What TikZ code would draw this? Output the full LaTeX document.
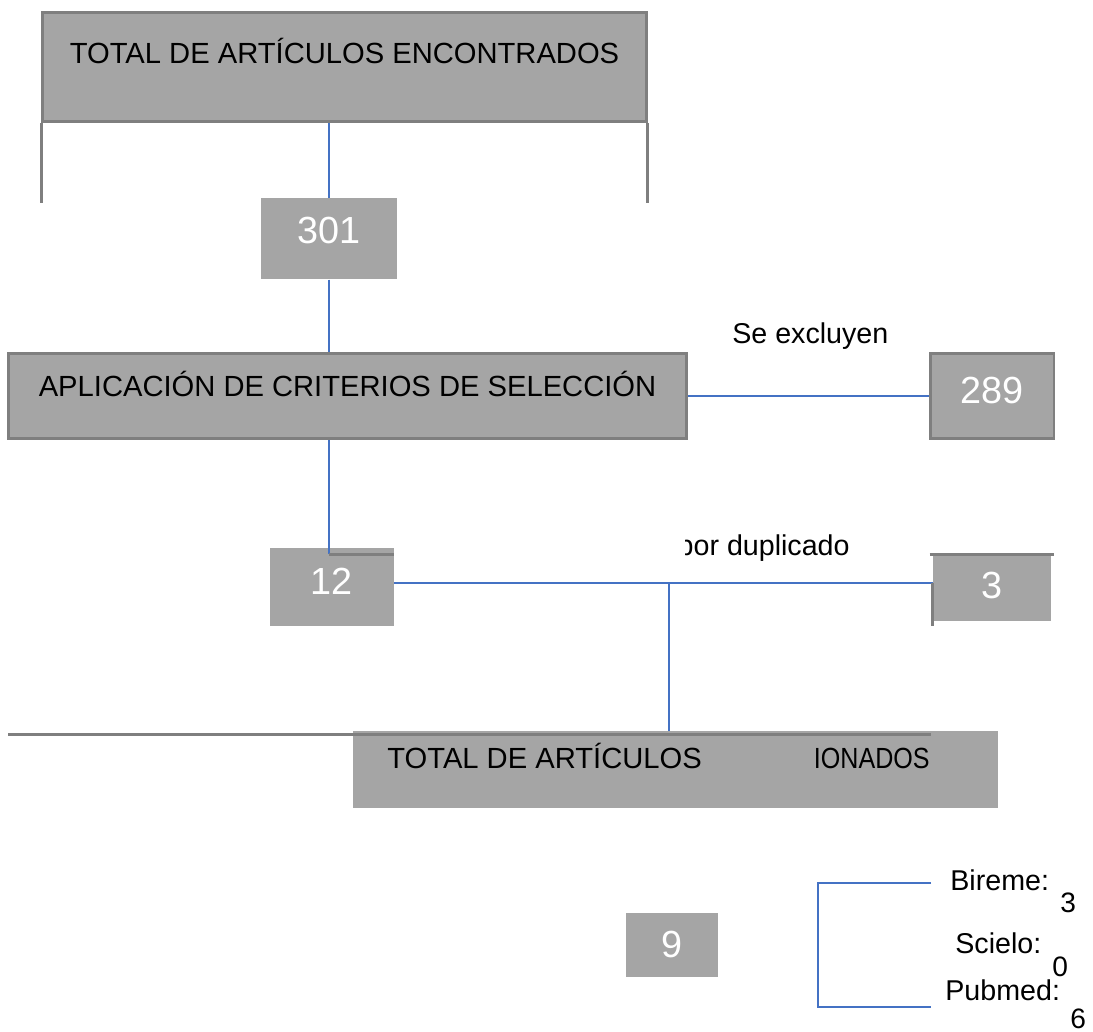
\documentclass[tikz,border=0pt]{standalone}
\usepackage{fontspec}
\setmainfont{Liberation Sans}
\definecolor{boxgray}{HTML}{A5A5A5}
\definecolor{rimgray}{HTML}{7F7F7F}
\definecolor{linkblue}{HTML}{4472C4}

\begin{document}
\begin{tikzpicture}[x=0.02cm,y=-0.02cm,
		box/.style={fill=boxgray,inner sep=0pt,anchor=north,font=\fontsize{16.6}{19}\selectfont},
		numbox/.style={fill=boxgray,inner sep=0pt,anchor=north,text=white,font=\fontsize{21.5}{25}\selectfont},
		rim/.style={rimgray,line width=1.7pt},
		link/.style={linkblue,line width=1.1pt},
		lbl/.style={inner sep=0pt,font=\fontsize{16.3}{19}\selectfont},
		val/.style={inner sep=0pt,anchor=base west,font=\fontsize{16}{18}\selectfont}]
			\useasboundingbox (0,0) rectangle (1093,1032);
			\node[box,draw=rimgray,line width=1.7pt,minimum width=12.07cm,text height=1.02cm,text depth=1.17cm] (topbox) at (344.5,11) {TOTAL DE ARTÍCULOS ENCONTRADOS};
			\node[numbox,minimum width=2.74cm,text height=0.9cm,text depth=0.72cm] (n301) at (329,198) {301};
			\node[box,draw=rimgray,line width=1.7pt,minimum width=13.58cm,text height=0.86cm,text depth=0.84cm] (critbox) at (347.5,352) {APLICACIÓN DE CRITERIOS DE SELECCIÓN};
			\node[numbox,draw=rimgray,line width=1.7pt,minimum width=2.48cm,text height=1.0cm,text depth=0.7cm] (n289) at (992,352) {289};
			\node[numbox,minimum width=2.48cm,text height=0.92cm,text depth=0.64cm] (n12) at (332,548) {12};
			\node[numbox,minimum width=2.36cm,text height=0.84cm,text depth=0.46cm] (n3) at (992,556) {3};
			\node[box,minimum width=12.9cm,minimum height=1.54cm] (selbox) at (675.5,731) {};
			\node[numbox,minimum width=1.84cm,text height=0.88cm,text depth=0.4cm] (n9) at (672,913) {9};

			\node[lbl,anchor=base west] (excl) at (732,343) {Se excluyen};
			\node[lbl,anchor=base east] (dup) at (850,555) {por duplicado};
			\fill[white] (668,528) rectangle (685,566);
			\node[lbl,anchor=base west,font=\fontsize{16.6}{19}\selectfont] (seltxt) at (387,768) {TOTAL DE ARTÍCULOS};
			\node[lbl,anchor=base east,font=\fontsize{16.6}{19}\selectfont] (seltail) at (930,768) {\scalebox{0.86}[1]{IONADOS}};
			\node[lbl,anchor=base west] (bireme) at (950,890) {Bireme:};
			\node[val] (nbireme) at (1060,912) {3};
			\node[lbl,anchor=base west] (scielo) at (955,953) {Scielo:};
			\node[val] (nscielo) at (1052,976) {0};
			\node[lbl,anchor=base west] (pubmed) at (945,1000) {Pubmed:};
			\node[val] (npubmed) at (1070,1028) {6};

			\draw[rim] (topbox.south west) -- ++(0,79.5);
			\draw[rim] (topbox.south east) -- ++(0,79.5);
			\draw[link] (n301.north) -- (n301.north |- topbox.south);
			\draw[link] (n301.south) -- (n301.south |- critbox.north);
			\coordinate (elbow) at (n301.south |- 0,554);
			\draw[link] (n301.south |- critbox.south) -- (elbow);
			\draw[rim] (elbow) -- (elbow -| n12.east);
			\draw[link] (critbox.east) -- (n289.west);
			\coordinate (fork) at (669,583);
			\draw[link] (n12.east |- fork) -- (n3.west |- fork);
			\draw[rim] (n3.west |- fork) -- (n3.west |- 0,626);
			\draw[rim] ([shift={(-3,-1.5)}]n3.north west) -- ([shift={(3,-1.5)}]n3.north east);
			\draw[link] (fork) -- (fork |- selbox.north);
			\draw[rim] (8,734) -- (931,734);
			\coordinate (brtop) at (931,883);
			\coordinate (brbot) at (931,1007);
			\draw[link] (brtop) -- ++(-113,0) |- (brbot);
		\end{tikzpicture}
\end{document}
